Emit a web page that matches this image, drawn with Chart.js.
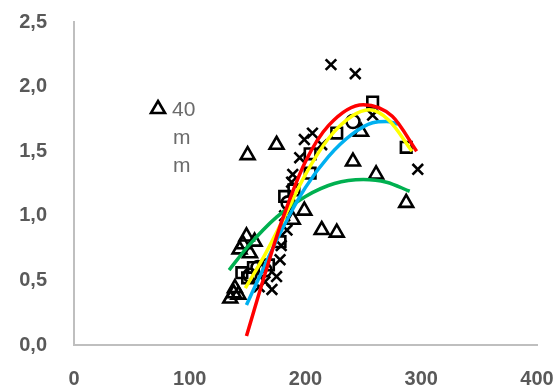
<!DOCTYPE html>
<html lang="en">
<head>
<meta charset="UTF-8">
<title>Scatter with trend lines</title>
<script src="https://cdn.jsdelivr.net/npm/chart.js"></script>
<style>
  html, body { margin: 0; padding: 0; background: #fff; }
  #wrap { position: relative; width: 558px; height: 390px; }
</style>
</head>
<body>
<div id="wrap"><canvas id="chart" width="558" height="390"></canvas></div>
<script>
// measured points
const triX = [135, 138, 142, 139, 143, 146, 149, 152, 156, 150, 175, 189, 199, 214, 227, 241, 248, 261, 287];
const triY = [0.36, 0.40, 0.39, 0.44, 0.74, 0.78, 0.84, 0.71, 0.80, 1.47, 1.55, 0.97, 1.04, 0.89, 0.87, 1.42, 1.65, 1.32, 1.10];

const crossX = [160, 165, 171, 175, 178, 179, 182, 184, 188, 189, 195, 199, 206, 214, 222, 243, 258, 297];
const crossY = [0.45, 0.49, 0.43, 0.53, 0.66, 0.77, 1.00, 0.89, 1.26, 1.32, 1.45, 1.59, 1.64, 1.55, 2.17, 2.10, 1.78, 1.36];

const sqX = [145, 150, 155, 168, 178, 182, 190, 204, 204, 227, 258, 287];
const sqY = [0.56, 0.52, 0.60, 0.62, 0.80, 1.15, 1.20, 1.33, 1.48, 1.64, 1.88, 1.53];

const circX = [152, 159, 165, 185, 241];
const circY = [0.54, 0.60, 0.58, 1.10, 1.73];

// trend lines
const redX = [149, 165, 180, 200, 220, 250, 275, 296];
const redY = [0.07, 0.55, 0.97, 1.42, 1.70, 1.86, 1.77, 1.50];
const yellowX = [148, 165, 180, 200, 220, 240, 255, 272, 292];
const yellowY = [0.44, 0.70, 0.96, 1.32, 1.60, 1.77, 1.82, 1.74, 1.50];
const cyanX = [149, 165, 180, 200, 220, 240, 258, 270, 280];
const cyanY = [0.31, 0.62, 0.90, 1.22, 1.46, 1.63, 1.72, 1.73, 1.71];
const greenX = [134, 150, 175, 200, 225, 250, 270, 290];
const greenY = [0.58, 0.76, 0.99, 1.15, 1.25, 1.28, 1.26, 1.19];

const xTicks = [0, 100, 200, 300, 400];
const yTicks = [0, 0.5, 1, 1.5, 2, 2.5];

function pts(xs, ys) {
    return xs.map((x, i) => ({ x: x, y: ys[i] }));
}

function markerSet(label, xs, ys, style, r) {
    return {
        label: label,
        data: pts(xs, ys),
        pointStyle: style,
        pointRadius: r,
        pointBorderWidth: 2.6,
        borderColor: '#000',
        backgroundColor: 'rgba(0,0,0,0)',
        showLine: false,
        order: 10
    };
}

function trend(xs, ys, color, ord) {
    return {
        data: pts(xs, ys),
        showLine: true,
        borderColor: color,
        borderWidth: 3.5,
        pointRadius: 0,
        cubicInterpolationMode: 'monotone',
        fill: false,
        order: ord
    };
}

// the legend in the reference is squeezed, so the text wraps
const legendBox = {
    id: 'legendBox',
    afterDraw(chart) {
        const c = chart.ctx;
        c.save();
        c.strokeStyle = '#000';
        c.lineWidth = 2.6;
        c.beginPath();
        c.moveTo(158, 101);
        c.lineTo(165, 113);
        c.lineTo(151, 113);
        c.closePath();
        c.stroke();
        c.fillStyle = '#6b6b6b';
        c.font = '21px "Liberation Sans", Arial, sans-serif';
        c.textBaseline = 'alphabetic';
        c.fillText('40', 172, 116);
        c.fillText('m', 173, 144);
        c.fillText('m', 173, 172);
        c.restore();
    }
};

const tickFont = { family: '"Liberation Sans", Arial, sans-serif', size: 20, weight: 'bold' };

new Chart(document.getElementById('chart').getContext('2d'), {
    type: 'scatter',
    data: {
        datasets: [
            trend(redX, redY, '#ff0000', 0),
            trend(yellowX, yellowY, '#ffff00', 1),
            trend(cyanX, cyanY, '#00b0f0', 2),
            trend(greenX, greenY, '#00b050', 3),
            markerSet('40 mm', triX, triY, 'triangle', 8),
            markerSet('x', crossX, crossY, 'crossRot', 7.5),
            markerSet('sq', sqX, sqY, 'rect', 7.5),
            markerSet('o', circX, circY, 'circle', 6.5)
        ]
    },
    options: {
        responsive: false,
        animation: false,
        layout: { padding: { top: 22, right: 21, left: 0, bottom: 0 } },
        plugins: {
            legend: { display: false },
            tooltip: { enabled: false }
        },
        scales: {
            x: {
                type: 'linear',
                min: 0,
                max: 400,
                afterBuildTicks: axis => { axis.ticks = xTicks.map(v => ({ value: v })); },
                afterFit: axis => { axis.height = 45; },
                grid: { display: false, drawTicks: true, tickLength: 19 },
                border: { display: true, color: '#bfbfbf', width: 2 },
                ticks: { color: '#595959', font: tickFont, padding: 3, maxRotation: 0 }
            },
            y: {
                min: 0,
                max: 2.5,
                afterBuildTicks: axis => { axis.ticks = yTicks.map(v => ({ value: v })); },
                afterFit: axis => { axis.width = 74; },
                grid: { display: false, drawTicks: true, tickLength: 24 },
                border: { display: true, color: '#bfbfbf', width: 2 },
                ticks: {
                    color: '#595959',
                    font: tickFont,
                    padding: 3,
                    callback: v => v.toFixed(1).replace('.', ',')
                }
            }
        }
    },
    plugins: [legendBox]
});
</script>
</body>
</html>
